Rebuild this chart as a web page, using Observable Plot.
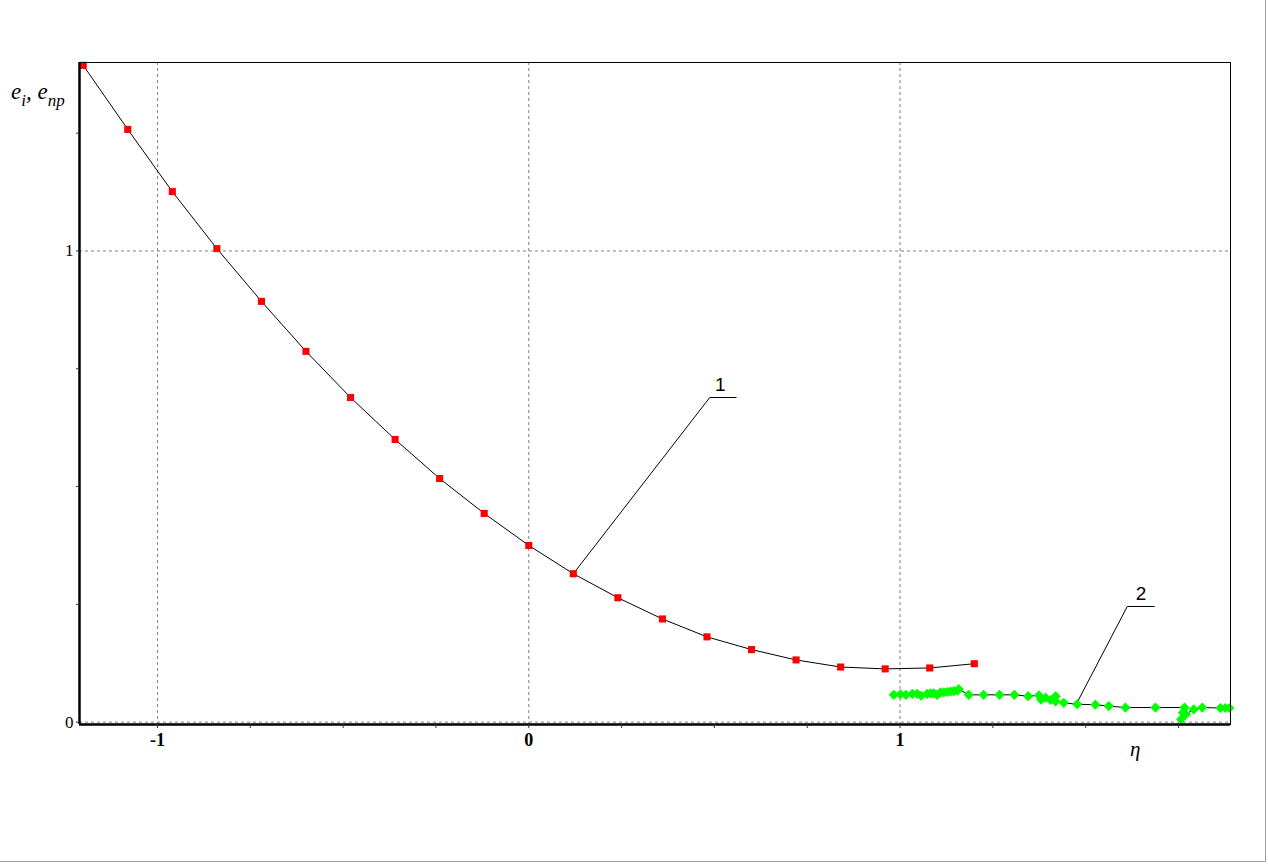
<!DOCTYPE html>
<html><head><meta charset="utf-8">
<script src="https://cdn.jsdelivr.net/npm/d3@7"></script>
<script src="https://cdn.jsdelivr.net/npm/@observablehq/plot@0.6"></script>
<style>
html,body{margin:0;padding:0;background:#fff;}
#wrap{position:relative;width:1268px;height:864px;overflow:hidden;background:#fff;}
#chart{position:absolute;left:0;top:0;}
#border{position:absolute;left:0;top:0;width:1265px;height:861px;border-right:1px solid #a0a0a0;border-bottom:1px solid #a0a0a0;pointer-events:none;}
.lab{position:absolute;font-family:'Liberation Serif',serif;font-style:italic;color:#000;line-height:1;white-space:nowrap;}
.lab sub{font-size:17px;vertical-align:-7px;line-height:0;}
</style></head><body>
<div id="wrap">
<div id="chart"></div>
<div id="border"></div>
<div class="lab" id="ylab" style="left:11px;top:80px;font-size:23px;">e<sub>i</sub>, e<sub>np</sub></div>
<div class="lab" id="xlab" style="left:1130px;top:739px;font-size:21px;">η</div>
</div>
<script>
// Curve 1 (red squares)
const etaRed = [-1.2, -1.08, -0.96, -0.84, -0.72, -0.6, -0.48, -0.36, -0.24, -0.12, 0, 0.12, 0.24, 0.36, 0.48, 0.6, 0.72, 0.84, 0.96, 1.08, 1.2];
const eRed   = [1.394, 1.258, 1.126, 1.005, 0.893, 0.787, 0.689, 0.600, 0.517, 0.443, 0.375, 0.315, 0.264, 0.219, 0.181, 0.154, 0.132, 0.117, 0.113, 0.115, 0.124];

// Curve 2 (green diamonds), in drawing order
const etaGreen = [0.983, 1.001, 1.016, 1.033, 1.046, 1.057, 1.073, 1.082, 1.091, 1.100, 1.109, 1.118, 1.127, 1.136, 1.145, 1.154, 1.158, 1.185, 1.225, 1.268, 1.308, 1.345, 1.374, 1.380, 1.392, 1.405, 1.419, 1.419, 1.441, 1.477, 1.526, 1.562, 1.607, 1.688, 1.766, 1.762, 1.757, 1.770, 1.791, 1.814, 1.863, 1.876, 1.887];
const eGreen   = [0.058, 0.059, 0.058, 0.060, 0.060, 0.056, 0.060, 0.061, 0.061, 0.058, 0.063, 0.063, 0.064, 0.065, 0.066, 0.067, 0.070, 0.058, 0.058, 0.058, 0.058, 0.055, 0.057, 0.048, 0.052, 0.047, 0.055, 0.044, 0.041, 0.038, 0.037, 0.034, 0.031, 0.031, 0.031, 0.020, 0.006, 0.017, 0.027, 0.031, 0.030, 0.030, 0.030];

// Axes
const xDomain = [-1.21, 1.89];
const yDomain = [-0.005, 1.4];
const xMajorTicks = [-1, 0, 1];
const yMajorTicks = [0, 1];
const xMinorTicks = [-1, -0.75, -0.5, -0.25, 0, 0.25, 0.5, 0.75, 1, 1.25, 1.5, 1.75];
const yMinorTicks = [0, 0.25, 0.5, 0.75, 1, 1.25];

// Curve annotations
const curveNames = ["1", "2"];
const labelEta = [0.516, 1.649];
const labelE = [0.715, 0.2725];
const leader1Eta = [0.121, 0.4875, 0.5586];
const leader1E   = [0.316, 0.689, 0.689];
const leader2Eta = [1.475, 1.612, 1.685];
const leader2E   = [0.0387, 0.2455, 0.2455];

const red = etaRed.map((x, i) => ({eta: x, e: eRed[i]}));
const green = etaGreen.map((x, i) => ({eta: x, e: eGreen[i]}));
const lead1 = leader1Eta.map((x, i) => ({eta: x, e: leader1E[i]}));
const lead2 = leader2Eta.map((x, i) => ({eta: x, e: leader2E[i]}));
const labels = curveNames.map((t, i) => ({t, eta: labelEta[i], e: labelE[i]}));

const serif = "'Liberation Serif', 'Times New Roman', serif";

const chart = Plot.plot({
  width: 1268,
  height: 864,
  marginLeft: 79,
  marginRight: 38,
  marginTop: 62,
  marginBottom: 140,
  x: {domain: xDomain, axis: null},
  y: {domain: yDomain, axis: null},
  style: {background: "transparent", fontFamily: serif, color: "black"},
  marks: [
    Plot.ruleX(xMajorTicks, {stroke: "#808080", strokeDasharray: "3,3", strokeWidth: 1}),
    Plot.ruleY(yMajorTicks, {stroke: "#808080", strokeDasharray: "3,3", strokeWidth: 1}),
    Plot.line(red, {x: "eta", y: "e", stroke: "black", strokeWidth: 1}),
    Plot.line(green, {x: "eta", y: "e", stroke: "black", strokeWidth: 1}),
    Plot.line(lead1, {x: "eta", y: "e", stroke: "black", strokeWidth: 1}),
    Plot.line(lead2, {x: "eta", y: "e", stroke: "black", strokeWidth: 1}),
    Plot.dot(green, {x: "eta", y: "e", symbol: "diamond2", r: 4.6, fill: "#00ff00", stroke: "none"}),
    Plot.dot(red, {x: "eta", y: "e", symbol: "square", r: 4, fill: "#ff0000", stroke: "none"}),
    Plot.text(labels, {x: "eta", y: "e", text: "t", fontFamily: "'Liberation Sans', Arial, sans-serif", fontSize: 19, fill: "black"}),
    Plot.frame({stroke: "black", strokeWidth: 1}),
    Plot.ruleX([xDomain[0]], {stroke: "black", strokeWidth: 2.5}),
    Plot.ruleY([yDomain[0]], {stroke: "black", strokeWidth: 2.5}),
    Plot.axisX({ticks: xMinorTicks, tickSize: 4, tickFormat: () => "", label: null, stroke: "#333"}),
    Plot.axisX({ticks: xMajorTicks, tickSize: 0, tickPadding: 9, tickFormat: d => String(d), label: null, fontSize: 18, fontWeight: "bold", fontFamily: serif}),
    Plot.axisY({ticks: yMinorTicks, tickSize: 3, tickFormat: () => "", label: null, stroke: "#333"}),
    Plot.axisY({ticks: yMajorTicks, tickSize: 0, tickPadding: 6, tickFormat: d => String(d), label: null, fontSize: 17, fontFamily: serif})
  ]
});
document.getElementById("chart").appendChild(chart);
</script>
</body></html>
